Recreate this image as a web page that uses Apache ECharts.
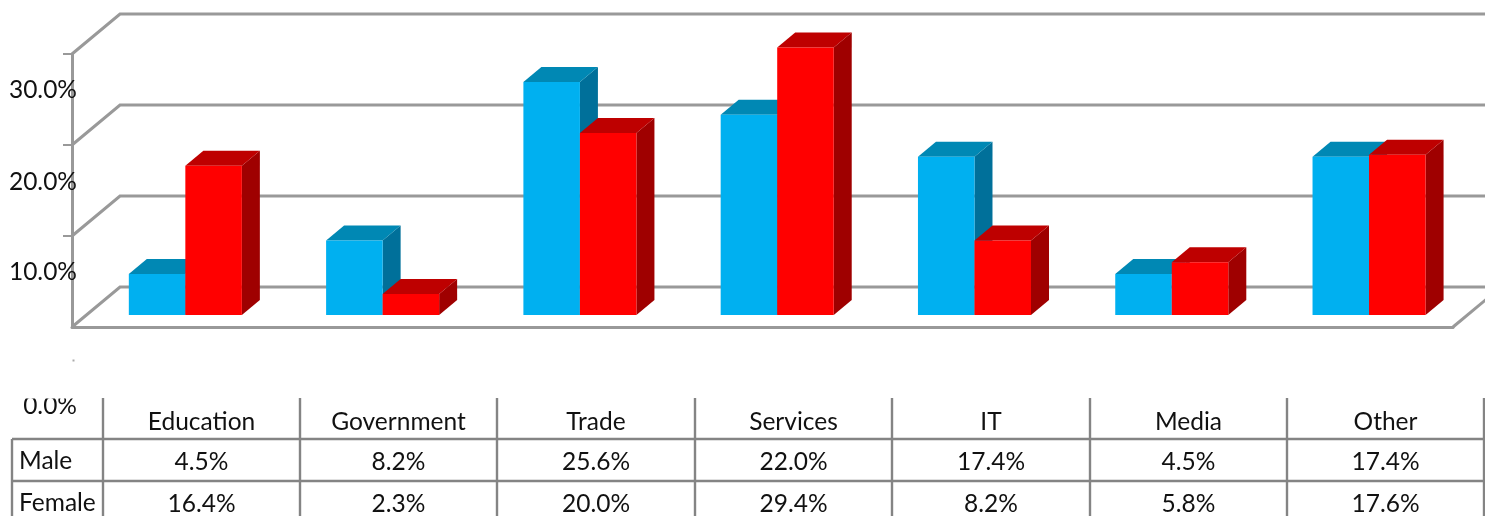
<!DOCTYPE html>
<html><head><meta charset="utf-8">
<style>html,body{margin:0;padding:0;background:#fff}#c{width:1485px;height:516px}</style>
<script src="https://cdn.jsdelivr.net/npm/echarts@6/dist/echarts.min.js"></script>
</head><body><div id="c"></div>
<script>
const categories = ["Education","Government","Trade","Services","IT","Media","Other"];
const male = [4.5,8.2,25.6,22.0,17.4,4.5,17.4];
const female = [16.4,2.3,20.0,29.4,8.2,5.8,17.6];
const yTicks = [0,10,20,30];

const FONT = 'Lato';
const FS = 24.5;
const GRID = '#999999', TABLE = '#848484';
const labelShift = {0:158,10:72,20:74,30:72};

function wallItem(params, api){
  const v = api.value(0);
  const a = api.coord([0, v]);
  const left = params.coordSys.x, right = params.coordSys.x + params.coordSys.width;
  const back = [[left, a[1]], [left+48, a[1]-40], [right+48, a[1]-40]];
  const children = [{type:'polyline', shape:{points:back}, style:{stroke:GRID, lineWidth:3, fill:null}}];
  if (v === 0) children.push({type:'line', shape:{x1:right,y1:a[1],x2:right+48,y2:a[1]-40}, style:{stroke:GRID,lineWidth:3}});
  return {type:'group', silent:true, children};
}
function barItem(side, front, top, dark){
  return function(params, api){
    const base = api.coord([api.value(0), 0]);
    const tip = api.coord([api.value(0), api.value(1)]);
    const w = api.size([1,0])[0]*0.2865;
    const x0 = base[0]+14.7 + (side<0 ? -w : 0), x1 = x0+w;
    const y0 = base[1]-12, y1 = tip[1]-12;
    const dx = 18, dy = 15;
    return {type:'group', children:[
      {type:'polygon', shape:{points:[[x1,y1],[x1+dx,y1-dy],[x1+dx,y0-dy],[x1,y0]]}, style:{fill:dark}},
      {type:'polygon', shape:{points:[[x0,y1],[x0+dx,y1-dy],[x1+dx,y1-dy],[x1,y1]]}, style:{fill:top}},
      {type:'rect', shape:{x:x0,y:y1,width:w,height:y0-y1}, style:{fill:front}}
    ]};
  };
}

// table
const colX = [103,300,497,695,892,1090,1287,1484];
const rowY = [398,439,481,516];
const g = [];
const ln = (x1,y1,x2,y2)=>g.push({type:'line',z:50,shape:{x1,y1,x2,y2},style:{stroke:TABLE,lineWidth:2.4}});
const tx = (text,x,y,align)=>g.push({type:'text',z:51,x,y,style:{text,fill:'#111',font:`${FS}px ${FONT}`,align,verticalAlign:'middle'}});
g.push({type:'rect',z:40,shape:{x:0,y:368,width:100,height:30.5},style:{fill:'#fff'}});
g.push({type:'rect',z:41,shape:{x:72.5,y:359.5,width:2,height:2},style:{fill:'#aaa'}});
colX.forEach(x=>ln(x,rowY[0],x,rowY[3]));
ln(12,rowY[1],12,rowY[3]);
ln(12,rowY[1],1484,rowY[1]);
ln(12,rowY[2],1484,rowY[2]);
categories.forEach((c,i)=>{
  const cx=(colX[i]+colX[i+1])/2;
  tx(c,cx,422.5,'center');
  tx(male[i].toFixed(1)+'%',cx,462,'center');
  tx(female[i].toFixed(1)+'%',cx,504,'center');
});
tx('Male',19,461,'left');
tx('Female',19,503,'left');

const rich = {};
yTicks.forEach(v=>{rich['t'+v]={fontFamily:FONT,fontSize:FS,color:'#111',padding:[labelShift[v],0,0,0]};});

const chart = echarts.init(document.getElementById('c'),null,{renderer:'canvas'});
chart.setOption({
  animation:false,
  backgroundColor:'#fff',
  grid:{left:72,right:32,top:54,bottom:189,containLabel:false},
  xAxis:{type:'category',data:categories,boundaryGap:true,
    axisLine:{show:true,lineStyle:{color:GRID,width:3}},axisTick:{show:false},axisLabel:{show:false},splitLine:{show:false}},
  yAxis:{type:'value',min:0,max:30,interval:10,
    axisLine:{show:true,lineStyle:{color:GRID,width:3}},
    axisTick:{show:true,length:9,lineStyle:{color:GRID,width:2},customValues:[10,20,30]},
    splitLine:{show:false},
    axisLabel:{margin:-5,align:'right',formatter:v=>`{t${v}|${v.toFixed(1)}%}`,rich}},
  graphic:g,
  series:[
    {type:'custom',name:'Walls',clip:false,coordinateSystem:'cartesian2d',renderItem:wallItem,
      encode:{y:0},data:yTicks.map(v=>[v]),z:1,silent:true},
    {type:'custom',name:'Male',renderItem:barItem(-1,'#00B0F0','#0088B4','#00709A'),
      encode:{x:0,y:1},data:male.map((v,i)=>[i,v]),z:2},
    {type:'custom',name:'Female',renderItem:barItem(1,'#FF0000','#BE0000','#9F0000'),
      encode:{x:0,y:1},data:female.map((v,i)=>[i,v]),z:3}
  ]
});
</script></body></html>
